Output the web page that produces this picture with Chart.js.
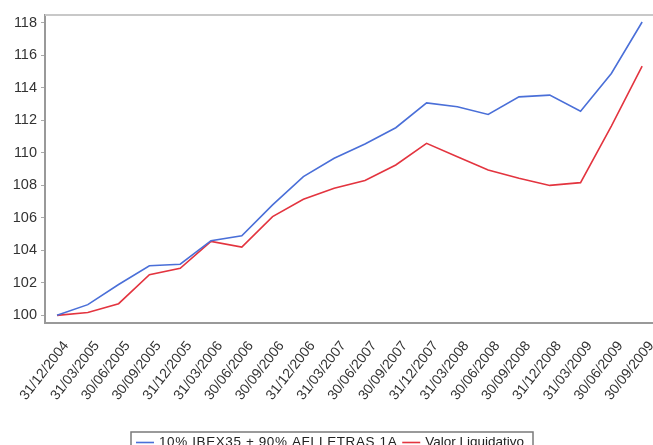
<!DOCTYPE html>
<html>
<head>
<meta charset="utf-8">
<script src="https://cdn.jsdelivr.net/npm/chart.js@4/dist/chart.umd.min.js"></script>
<style>
  html, body { margin: 0; padding: 0; background: #ffffff; }
  #wrap { width: 653px; height: 445px; position: relative; }
</style>
</head>
<body>
<div id="wrap"><canvas id="c" width="653" height="445"></canvas></div>
<script>
// Quarter-end dates
const dates = [
  '31/12/2004', '31/03/2005', '30/06/2005', '30/09/2005', '31/12/2005',
  '31/03/2006', '30/06/2006', '30/09/2006', '31/12/2006', '31/03/2007',
  '30/06/2007', '30/09/2007', '31/12/2007', '31/03/2008', '30/06/2008',
  '30/09/2008', '31/12/2008', '31/03/2009', '30/06/2009', '30/09/2009'
];

// Benchmark: 10% IBEX35 + 90% AFI LETRAS 1A (base 100)
const benchmark = [
  100.0, 100.66, 101.9, 103.05, 103.15,
  104.6, 104.9, 106.8, 108.54, 109.67,
  110.55, 111.55, 113.08, 112.84, 112.37,
  113.45, 113.56, 112.57, 114.89, 118.06
];

// Fund net asset value (base 100)
const navValues = [
  100.0, 100.18, 100.72, 102.5, 102.9,
  104.55, 104.2, 106.08, 107.15, 107.82,
  108.3, 109.26, 110.59, 109.77, 108.95,
  108.44, 108.0, 108.17, 111.65, 115.34
];

const yTicks = [100, 102, 104, 106, 108, 110, 112, 114, 116, 118];

const seriesNames = ['10% IBEX35 + 90% AFI LETRAS 1A', 'Valor Liquidativo'];
const seriesColors = ['#4a6fd8', '#e3343f'];

const toPoints = arr => arr.map((v, i) => ({ x: i, y: v }));

// Frame line along the top of the plot area
const topFrame = {
  id: 'topFrame',
  afterDatasetsDraw(chart) {
    const { ctx, chartArea } = chart;
    ctx.save();
    ctx.strokeStyle = '#c8c8c8';
    ctx.lineWidth = 2;
    ctx.beginPath();
    ctx.moveTo(chartArea.left, chartArea.top);
    ctx.lineTo(chartArea.right + 2, chartArea.top);
    ctx.stroke();
    ctx.restore();
  }
};

// Boxed legend under the axis labels
const boxedLegend = {
  id: 'boxedLegend',
  afterDraw(chart) {
    const { ctx } = chart;
    ctx.save();
    const left = 131, top = 432, right = 533, bottom = 454;
    ctx.strokeStyle = '#7a7a7a';
    ctx.lineWidth = 1.5;
    ctx.strokeRect(left, top, right - left, bottom - top);
    ctx.font = '13.5px "Liberation Sans", Arial, sans-serif';
    ctx.fillStyle = '#222';
    ctx.textBaseline = 'middle';
    const cy = 442.5;
    const spacing = ['0.6px', '0px'];
    let x = left + 5;
    seriesNames.forEach((name, i) => {
      ctx.strokeStyle = seriesColors[i];
      ctx.lineWidth = 1.6;
      ctx.beginPath();
      ctx.moveTo(x, cy);
      ctx.lineTo(x + 18, cy);
      ctx.stroke();
      x += 23;
      ctx.letterSpacing = spacing[i];
      ctx.fillText(name, x, cy);
      x += ctx.measureText(name).width + 5;
    });
    ctx.restore();
  }
};

new Chart(document.getElementById('c'), {
  type: 'line',
  data: {
    datasets: [
      {
        label: seriesNames[0],
        data: toPoints(benchmark),
        borderColor: seriesColors[0],
        borderWidth: 1.6,
        pointRadius: 0,
        tension: 0,
        fill: false
      },
      {
        label: seriesNames[1],
        data: toPoints(navValues),
        borderColor: seriesColors[1],
        borderWidth: 1.6,
        pointRadius: 0,
        tension: 0,
        fill: false
      }
    ]
  },
  options: {
    responsive: false,
    animation: false,
    layout: { padding: { top: 15, right: 1, left: 0, bottom: 0 } },
    plugins: {
      legend: { display: false },
      title: { display: false },
      tooltip: { enabled: false }
    },
    scales: {
      x: {
        type: 'linear',
        min: -0.39,
        max: 19.32,
        afterBuildTicks(scale) {
          scale.ticks = dates.map((d, i) => ({ value: i }));
        },
        afterFit(scale) {
          scale.height = 122;
          scale.paddingLeft = 0;
          scale.paddingRight = 0;
        },
        grid: { display: false, drawTicks: false },
        border: { display: true, color: '#999999', width: 2 },
        ticks: {
          autoSkip: false,
          minRotation: 52,
          maxRotation: 52,
          padding: 15,
          labelOffset: 9,
          color: '#333333',
          font: { family: '"Liberation Sans", Arial, sans-serif', size: 14 },
          callback: (v) => dates[v] ?? ''
        }
      },
      y: {
        type: 'linear',
        min: 99.53,
        max: 118.49,
        afterBuildTicks(scale) {
          scale.ticks = yTicks.map(v => ({ value: v }));
        },
        afterFit(scale) {
          scale.width = 45;
          scale.paddingTop = 0;
          scale.paddingBottom = 0;
        },
        grid: { drawOnChartArea: false, drawTicks: true, tickLength: 4, color: '#aaaaaa' },
        border: { display: true, color: '#999999', width: 2 },
        ticks: {
          padding: 4,
          color: '#333333',
          font: { family: '"Liberation Sans", Arial, sans-serif', size: 14.5 },
          callback: (v) => String(v)
        }
      }
    }
  },
  plugins: [topFrame, boxedLegend]
});
</script>
</body>
</html>
